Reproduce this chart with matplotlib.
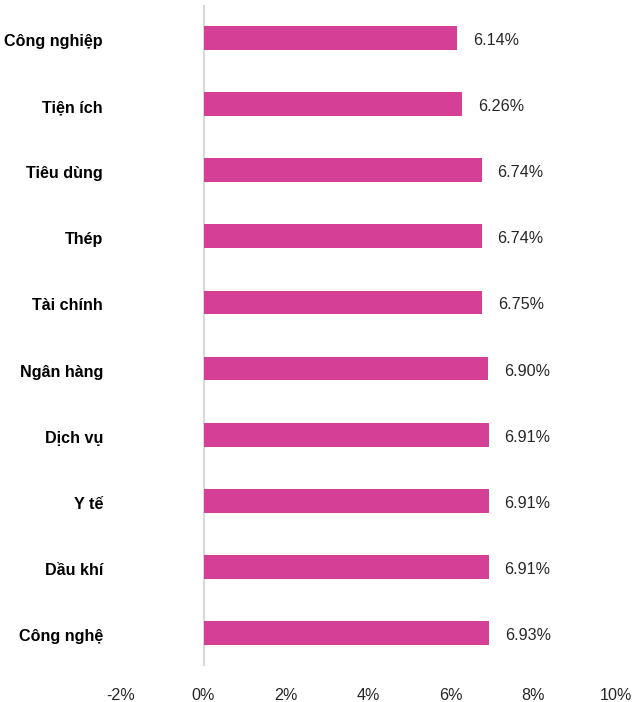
import matplotlib
matplotlib.use('Agg')
import matplotlib.pyplot as plt
import matplotlib.transforms as mtransforms

# Data (top to bottom as shown)
sectors = ['Công nghiệp', 'Tiện ích', 'Tiêu dùng', 'Thép', 'Tài chính',
           'Ngân hàng', 'Dịch vụ', 'Y tế', 'Dầu khí', 'Công nghệ']
values = [6.14, 6.26, 6.74, 6.74, 6.75, 6.90, 6.91, 6.91, 6.91, 6.93]
xticks = [-2, 0, 2, 4, 6, 8, 10]

plt.rcParams['font.family'] = ['Liberation Sans', 'DejaVu Sans']

fig = plt.figure(figsize=(6.34, 7.02), dpi=100)
ax = fig.add_axes([121/634, 36/702, 495/634, 661/702])

pos = list(range(len(sectors)))[::-1]
ax.barh(pos, values, height=0.36, color='#D63F96')

for p, v in zip(pos, values):
    ax.annotate(f'{v:.2f}%', (v, p), xytext=(11.5, -1.8), textcoords='offset points',
                va='center', ha='left', fontsize=11.6, color='#262626')

ax.axvline(0, color='#D9D9D9', lw=1.5, zorder=0)

ax.set_xlim(-2, 10)
ax.set_ylim(-0.5, len(sectors) - 0.5)
ax.set_xticks(xticks)
ax.set_xticklabels([f'{t}%' for t in xticks], fontsize=11.6, color='#262626')
ax.set_yticks(pos)
ax.set_yticklabels(sectors, fontsize=11.6, fontweight='bold', color='black')
ax.tick_params(axis='x', length=0, pad=16)
ax.tick_params(axis='y', length=0, pad=13)
for s in ax.spines.values():
    s.set_visible(False)

# nudge category labels down a little
shift = mtransforms.ScaledTranslation(0, -2/100, fig.dpi_scale_trans)
for lab in ax.get_yticklabels():
    lab.set_transform(lab.get_transform() + shift)

fig.savefig('out.png', dpi=100)
